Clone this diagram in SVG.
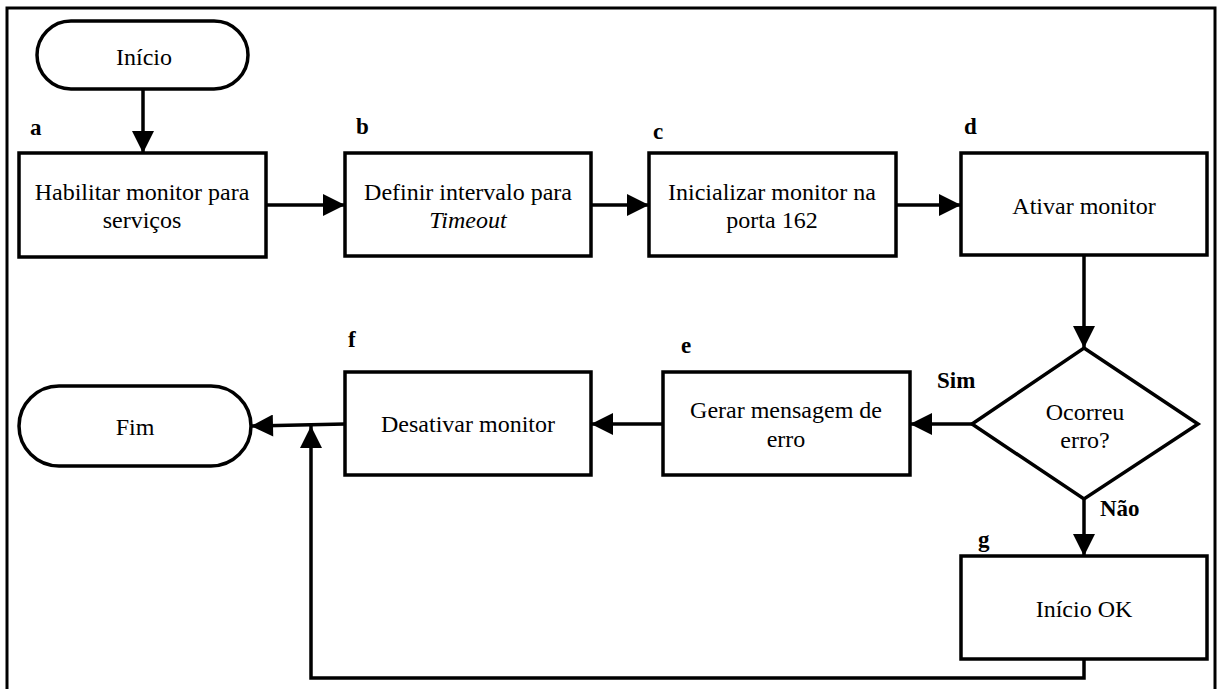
<svg xmlns="http://www.w3.org/2000/svg" width="1221" height="689" viewBox="0 0 1221 689">
  <defs>
    <marker id="arrow" viewBox="0 0 10 10" refX="10" refY="5" markerWidth="27" markerHeight="22" markerUnits="userSpaceOnUse" orient="auto">
      <path d="M0,0 L10,5 L0,10 Z" fill="#000"/>
    </marker>
    <style>
      .shape { fill: #fff; stroke: #000; stroke-width: 3.5; }
      .edge { fill: none; stroke: #000; stroke-width: 3.5; marker-end: url(#arrow); }
      .t { font-family: 'Liberation Serif', 'Times New Roman', serif; font-size: 24px; fill: #000; text-anchor: middle; }
      .lbl { font-family: 'Liberation Serif', 'Times New Roman', serif; font-size: 23px; font-weight: bold; fill: #000; }
    </style>
  </defs>
  <rect width="1221" height="689" fill="#fff"/>
  <!-- outer frame -->
  <rect x="7" y="8" width="1208" height="700" fill="none" stroke="#000" stroke-width="3"/>

  <g id="connectors">
    <line class="edge" x1="143" y1="89" x2="143" y2="153"/>
    <line class="edge" x1="266" y1="205" x2="345" y2="205"/>
    <line class="edge" x1="591" y1="205" x2="649" y2="205"/>
    <line class="edge" x1="896" y1="205" x2="961" y2="205"/>
    <line class="edge" x1="1084" y1="256" x2="1084" y2="348"/>
    <line class="edge" x1="972" y1="424" x2="910" y2="424"/>
    <line class="edge" x1="663" y1="424" x2="591" y2="424"/>
    <line class="edge" x1="345" y1="424" x2="251" y2="426"/>
    <line class="edge" x1="1084" y1="499" x2="1084" y2="556"/>
    <polyline class="edge" points="1084,659 1084,678 311,678 311,426"/>
  </g>

  <g id="inicio">
    <rect class="shape" x="37" y="21" width="211" height="68" rx="34"/>
    <text class="t" x="144" y="65">Início</text>
  </g>

  <g id="a">
    <rect class="shape" x="19" y="153" width="247" height="104"/>
    <text class="lbl" x="30" y="135">a</text>
    <text class="t" x="142" y="200">Habilitar monitor para</text>
    <text class="t" x="142" y="228">serviços</text>
  </g>

  <g id="b">
    <rect class="shape" x="345" y="153" width="246" height="103"/>
    <text class="lbl" x="356" y="134">b</text>
    <text class="t" x="468" y="200">Definir intervalo para</text>
    <text class="t" x="468" y="228" font-style="italic">Timeout</text>
  </g>

  <g id="c">
    <rect class="shape" x="649" y="153" width="247" height="103"/>
    <text class="lbl" x="653" y="139">c</text>
    <text class="t" x="772" y="200">Inicializar monitor na</text>
    <text class="t" x="772" y="228">porta 162</text>
  </g>

  <g id="d">
    <rect class="shape" x="961" y="153" width="246" height="102"/>
    <text class="lbl" x="964" y="134">d</text>
    <text class="t" x="1084" y="214">Ativar monitor</text>
  </g>

  <g id="decisao">
    <polygon class="shape" points="1084,348 1198,424 1084,499 972,424"/>
    <text class="t" x="1085" y="420">Ocorreu</text>
    <text class="t" x="1085" y="448">erro?</text>
    <text class="lbl" x="937" y="388">Sim</text>
    <text class="lbl" x="1100" y="516">Não</text>
  </g>

  <g id="e">
    <rect class="shape" x="663" y="372" width="247" height="103"/>
    <text class="lbl" x="681" y="353">e</text>
    <text class="t" x="786" y="418">Gerar mensagem de</text>
    <text class="t" x="786" y="447">erro</text>
  </g>

  <g id="f">
    <rect class="shape" x="345" y="372" width="246" height="103"/>
    <text class="lbl" x="348" y="347">f</text>
    <text class="t" x="468" y="432">Desativar monitor</text>
  </g>

  <g id="g">
    <rect class="shape" x="961" y="556" width="246" height="103"/>
    <text class="lbl" x="978" y="547">g</text>
    <text class="t" x="1084" y="617">Início OK</text>
  </g>

  <g id="fim">
    <rect class="shape" x="19" y="386" width="232" height="80" rx="40"/>
    <text class="t" x="135" y="435">Fim</text>
  </g>
</svg>
